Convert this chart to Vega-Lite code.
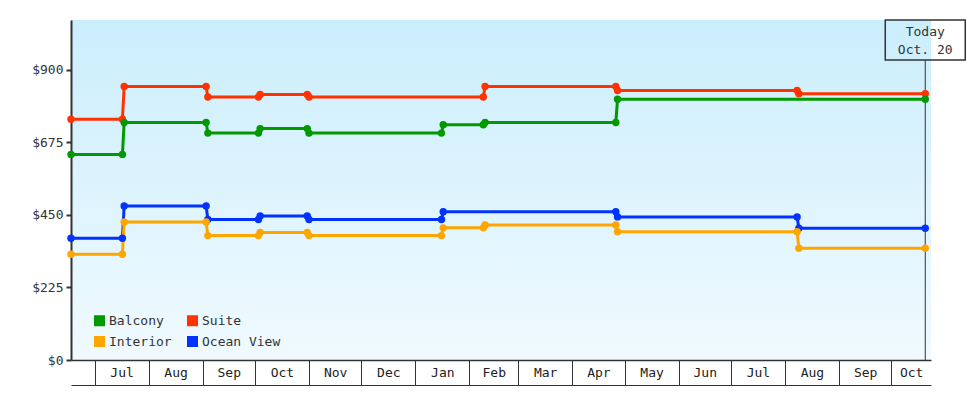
{
  "$schema": "https://vega.github.io/schema/vega-lite/v6.json",
  "width": 860,
  "height": 340,
  "autosize": {"type": "none"},
  "padding": {"left": 71, "top": 20, "right": 49, "bottom": 40},
  "background": "#ffffff",
  "config": {
    "font": "DejaVu Sans Mono",
    "view": {
      "fill": {"gradient": "linear", "x1": 0, "y1": 0, "x2": 0, "y2": 1,
        "stops": [{"offset": 0, "color": "#cbeefc"}, {"offset": 1, "color": "#f0faff"}]},
      "stroke": null
    },
    "axis": {"labelFont": "DejaVu Sans Mono", "labelFontSize": 13, "labelColor": "#222222", "title": null, "grid": false}
  },
  "datasets": {
    "today": [{"label": "Today"}],
    "prices": [
      {"date": "2022-06-17T12:00:00Z", "type": "Suite", "price": 747},
      {"date": "2022-07-17", "type": "Suite", "price": 747},
      {"date": "2022-07-18", "type": "Suite", "price": 849},
      {"date": "2022-09-03", "type": "Suite", "price": 849},
      {"date": "2022-09-04", "type": "Suite", "price": 816},
      {"date": "2022-10-03", "type": "Suite", "price": 816},
      {"date": "2022-10-04", "type": "Suite", "price": 824},
      {"date": "2022-10-31", "type": "Suite", "price": 824},
      {"date": "2022-11-01", "type": "Suite", "price": 816},
      {"date": "2023-02-09", "type": "Suite", "price": 816},
      {"date": "2023-02-10", "type": "Suite", "price": 849},
      {"date": "2023-04-26", "type": "Suite", "price": 849},
      {"date": "2023-04-27", "type": "Suite", "price": 836},
      {"date": "2023-08-08", "type": "Suite", "price": 836},
      {"date": "2023-08-09", "type": "Suite", "price": 826},
      {"date": "2023-10-20T12:00:00Z", "type": "Suite", "price": 826},

      {"date": "2022-06-17T12:00:00Z", "type": "Balcony", "price": 638},
      {"date": "2022-07-17", "type": "Balcony", "price": 638},
      {"date": "2022-07-18", "type": "Balcony", "price": 737},
      {"date": "2022-09-03", "type": "Balcony", "price": 737},
      {"date": "2022-09-04", "type": "Balcony", "price": 704},
      {"date": "2022-10-03", "type": "Balcony", "price": 704},
      {"date": "2022-10-04", "type": "Balcony", "price": 718},
      {"date": "2022-10-31", "type": "Balcony", "price": 718},
      {"date": "2022-11-01", "type": "Balcony", "price": 704},
      {"date": "2023-01-16", "type": "Balcony", "price": 704},
      {"date": "2023-01-17", "type": "Balcony", "price": 730},
      {"date": "2023-02-09", "type": "Balcony", "price": 730},
      {"date": "2023-02-10", "type": "Balcony", "price": 737},
      {"date": "2023-04-26", "type": "Balcony", "price": 737},
      {"date": "2023-04-27", "type": "Balcony", "price": 809},
      {"date": "2023-10-20T12:00:00Z", "type": "Balcony", "price": 809},

      {"date": "2022-06-17T12:00:00Z", "type": "Ocean View", "price": 378},
      {"date": "2022-07-17", "type": "Ocean View", "price": 378},
      {"date": "2022-07-18", "type": "Ocean View", "price": 478},
      {"date": "2022-09-03", "type": "Ocean View", "price": 478},
      {"date": "2022-09-04", "type": "Ocean View", "price": 436},
      {"date": "2022-10-03", "type": "Ocean View", "price": 436},
      {"date": "2022-10-04", "type": "Ocean View", "price": 447},
      {"date": "2022-10-31", "type": "Ocean View", "price": 447},
      {"date": "2022-11-01", "type": "Ocean View", "price": 436},
      {"date": "2023-01-16", "type": "Ocean View", "price": 436},
      {"date": "2023-01-17", "type": "Ocean View", "price": 460},
      {"date": "2023-04-26", "type": "Ocean View", "price": 460},
      {"date": "2023-04-27", "type": "Ocean View", "price": 444},
      {"date": "2023-08-08", "type": "Ocean View", "price": 444},
      {"date": "2023-08-09", "type": "Ocean View", "price": 409},
      {"date": "2023-10-20T12:00:00Z", "type": "Ocean View", "price": 409},

      {"date": "2022-06-17T12:00:00Z", "type": "Interior", "price": 328},
      {"date": "2022-07-17", "type": "Interior", "price": 328},
      {"date": "2022-07-18", "type": "Interior", "price": 428},
      {"date": "2022-09-03", "type": "Interior", "price": 428},
      {"date": "2022-09-04", "type": "Interior", "price": 386},
      {"date": "2022-10-03", "type": "Interior", "price": 386},
      {"date": "2022-10-04", "type": "Interior", "price": 396},
      {"date": "2022-10-31", "type": "Interior", "price": 396},
      {"date": "2022-11-01", "type": "Interior", "price": 386},
      {"date": "2023-01-16", "type": "Interior", "price": 386},
      {"date": "2023-01-17", "type": "Interior", "price": 410},
      {"date": "2023-02-09", "type": "Interior", "price": 410},
      {"date": "2023-02-10", "type": "Interior", "price": 419},
      {"date": "2023-04-26", "type": "Interior", "price": 419},
      {"date": "2023-04-27", "type": "Interior", "price": 398},
      {"date": "2023-08-08", "type": "Interior", "price": 398},
      {"date": "2023-08-09", "type": "Interior", "price": 347},
      {"date": "2023-10-20T12:00:00Z", "type": "Interior", "price": 347}
    ]
  },
  "resolve": {"axis": {"x": "independent"}},
  "layer": [
    {
      "data": {"name": "today"},
      "mark": {"type": "rule", "color": "#333333", "strokeWidth": 1},
      "encoding": {
        "x": {"datum": {"year": 2023, "month": 10, "date": 20, "hours": 12, "utc": true}, "type": "temporal", "axis": null},
        "y": {"datum": 931, "type": "quantitative"},
        "y2": {"datum": 0}
      }
    },
    {
      "data": {"name": "prices"},
      "mark": {"type": "line", "strokeWidth": 3, "interpolate": "linear"},
      "encoding": {
        "x": {
          "field": "date", "type": "temporal",
          "scale": {"type": "utc", "domain": [
            {"year": 2022, "month": 6, "date": 17, "hours": 12, "utc": true},
            {"year": 2023, "month": 10, "date": 23, "hours": 19, "utc": true}
          ]},
          "axis": {
            "orient": "bottom",
            "labels": false,
            "tickSize": 25,
            "tickColor": "#333333",
            "tickWidth": 1,
            "domainColor": "#333333",
            "domainWidth": 1.5,
            "values": [
              {"year": 2022, "month": 7, "date": 1, "utc": true},
              {"year": 2022, "month": 8, "date": 1, "utc": true},
              {"year": 2022, "month": 9, "date": 1, "utc": true},
              {"year": 2022, "month": 10, "date": 1, "utc": true},
              {"year": 2022, "month": 11, "date": 1, "utc": true},
              {"year": 2022, "month": 12, "date": 1, "utc": true},
              {"year": 2023, "month": 1, "date": 1, "utc": true},
              {"year": 2023, "month": 2, "date": 1, "utc": true},
              {"year": 2023, "month": 3, "date": 1, "utc": true},
              {"year": 2023, "month": 4, "date": 1, "utc": true},
              {"year": 2023, "month": 5, "date": 1, "utc": true},
              {"year": 2023, "month": 6, "date": 1, "utc": true},
              {"year": 2023, "month": 7, "date": 1, "utc": true},
              {"year": 2023, "month": 8, "date": 1, "utc": true},
              {"year": 2023, "month": 9, "date": 1, "utc": true},
              {"year": 2023, "month": 10, "date": 1, "utc": true}
            ]
          }
        },
        "y": {
          "field": "price", "type": "quantitative",
          "scale": {"domain": [0, 1055], "nice": false},
          "axis": {
            "values": [0, 225, 450, 675, 900],
            "labelExpr": "'$' + datum.value",
            "domainColor": "#333333",
            "domainWidth": 2,
            "tickColor": "#333333",
            "tickWidth": 2,
            "tickSize": 5,
            "labelPadding": 3,
            "labelColor": "#333333"
          }
        },
        "color": {
          "field": "type", "type": "nominal",
          "scale": {"domain": ["Balcony", "Suite", "Interior", "Ocean View"], "range": ["#009900", "#ff3300", "#ffa500", "#0033ff"]},
          "legend": {
            "orient": "none",
            "legendX": 22,
            "legendY": 294,
            "title": null,
            "columns": 2,
            "direction": "horizontal",
            "symbolType": "square",
            "symbolSize": 121,
            "symbolStrokeWidth": 0,
            "labelFont": "DejaVu Sans Mono",
            "labelFontSize": 13,
            "labelColor": "#333333",
            "labelOffset": 3,
            "rowPadding": 7,
            "columnPadding": 14,
            "padding": 0
          }
        }
      }
    },
    {
      "data": {"name": "prices"},
      "mark": {"type": "point", "filled": true, "size": 55, "opacity": 1, "shape": "circle"},
      "encoding": {
        "x": {
          "field": "date", "type": "temporal",
          "axis": {
            "orient": "bottom",
            "offset": 25,
            "ticks": false,
            "domainColor": "#333333",
            "domainWidth": 1,
            "labelPadding": -12.5,
            "labelBaseline": "middle",
            "labelAlign": "center",
            "labelFlush": false,
            "labelOverlap": false,
            "labelExpr": "utcFormat(datum.value, '%b')",
            "values": [
              {"year": 2022, "month": 7, "date": 16, "hours": 12, "utc": true},
              {"year": 2022, "month": 8, "date": 16, "hours": 12, "utc": true},
              {"year": 2022, "month": 9, "date": 16, "utc": true},
              {"year": 2022, "month": 10, "date": 16, "hours": 12, "utc": true},
              {"year": 2022, "month": 11, "date": 16, "utc": true},
              {"year": 2022, "month": 12, "date": 16, "hours": 12, "utc": true},
              {"year": 2023, "month": 1, "date": 16, "hours": 12, "utc": true},
              {"year": 2023, "month": 2, "date": 15, "utc": true},
              {"year": 2023, "month": 3, "date": 16, "hours": 12, "utc": true},
              {"year": 2023, "month": 4, "date": 16, "utc": true},
              {"year": 2023, "month": 5, "date": 16, "hours": 12, "utc": true},
              {"year": 2023, "month": 6, "date": 16, "utc": true},
              {"year": 2023, "month": 7, "date": 16, "hours": 12, "utc": true},
              {"year": 2023, "month": 8, "date": 16, "hours": 12, "utc": true},
              {"year": 2023, "month": 9, "date": 16, "utc": true},
              {"year": 2023, "month": 10, "date": 12, "hours": 10, "utc": true}
            ]
          }
        },
        "y": {"field": "price", "type": "quantitative"},
        "color": {"field": "type", "type": "nominal"}
      }
    },
    {
      "data": {"name": "today"},
      "mark": {"type": "point", "shape": "M-1,-0.5H1V0.5H-1Z", "size": 6400, "filled": false, "stroke": "#333333", "strokeWidth": 1.5, "opacity": 1},
      "encoding": {
        "x": {"datum": {"year": 2023, "month": 10, "date": 20, "hours": 12, "utc": true}, "type": "temporal", "axis": null},
        "y": {"datum": 993, "type": "quantitative"}
      }
    },
    {
      "data": {"name": "today"},
      "mark": {"type": "text", "text": ["Today", "Oct. 20"], "lineHeight": 18, "align": "center", "baseline": "middle", "font": "DejaVu Sans Mono", "fontSize": 13, "color": "#333333"},
      "encoding": {
        "x": {"datum": {"year": 2023, "month": 10, "date": 20, "hours": 12, "utc": true}, "type": "temporal", "axis": null},
        "y": {"datum": 1017, "type": "quantitative"}
      }
    }
  ]
}
